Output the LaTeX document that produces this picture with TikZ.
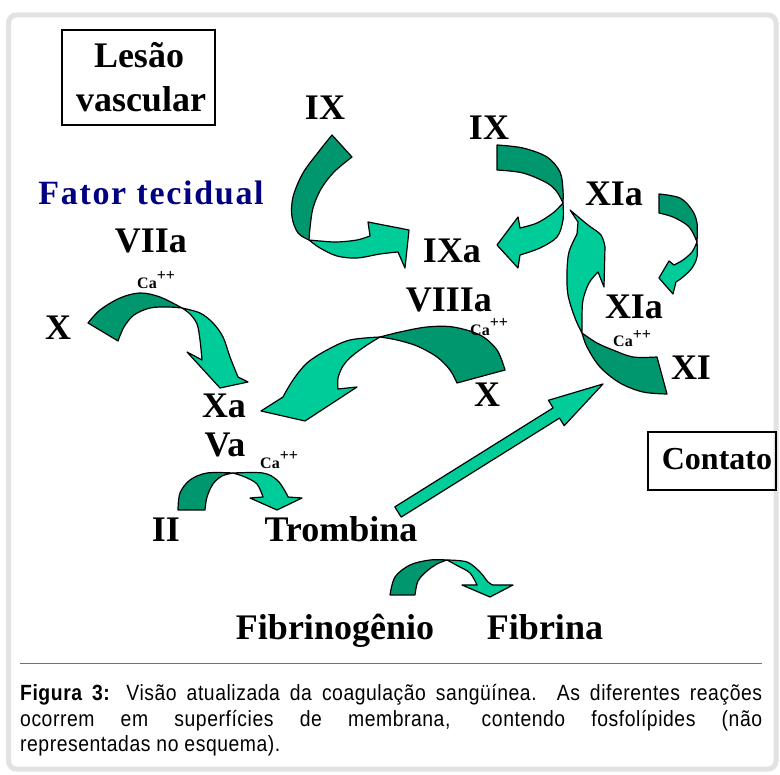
\documentclass[tikz,border=0pt]{standalone}
\usepackage{fontspec}
\setmainfont{Liberation Serif}
\newfontfamily\capfont[LetterSpace=2.5,FakeStretch=0.88]{Liberation Sans}
\newfontfamily\fatorfont[LetterSpace=5]{Liberation Serif}
\definecolor{dkg}{RGB}{0,150,110}
\definecolor{ltg}{RGB}{0,204,153}
\definecolor{navyblue}{RGB}{0,0,128}
\definecolor{framegray}{RGB}{226,226,226}
\begin{document}
\begin{tikzpicture}[x=1pt,y=-1pt,
  dk/.style={fill=dkg,draw=black,line width=1.2pt,line join=round},
  lt/.style={fill=ltg,draw=black,line width=1.2pt,line join=round},
  sm/.style={smooth,tension=0.55},
  lbl/.style={anchor=base,inner sep=0pt,font=\fontsize{36}{40}\selectfont\bfseries},
  ca/.style={anchor=base west,inner sep=0pt,font=\fontsize{16}{18}\selectfont\bfseries},
  box/.style={draw=black,line width=1.5pt,inner sep=0pt},
  captxt/.style={anchor=base west,inner sep=0pt,font=\capfont\fontsize{22}{26}\selectfont}]
\useasboundingbox (0,0) rectangle (780,775);
\draw[framegray,line width=5pt,rounded corners=8pt] (8.5,15) rectangle (776,769);

% boxes
\node[box,minimum width=153pt,minimum height=95pt] (lesaobox) at (138.5,77.5) {};
\node[box,minimum width=128pt,minimum height=58pt] (contatobox) at (712,461) {};

% A0 left IX -> IXa
\filldraw[dk] plot[sm] coordinates {(332,135) (320,150) (303,173) (293,197) (292,217) (298,233) (309,240)}
  -- plot[sm] coordinates {(309,240) (310,228) (313,208) (321,189) (334,172) (352,157)} -- cycle;
\filldraw[lt] plot[sm] coordinates {(309,240) (320,248) (337,256) (357,258) (380,254) (398,252)}
  -- (405,268) -- (409,230) -- (368,222) -- (370,236)
  -- plot[sm] coordinates {(370,236) (357,240) (337,242) (320,241) (309,240)} -- cycle;

% A1 X -> Xa
\filldraw[dk] plot[sm] coordinates {(88,323) (100,310) (120,298) (140,293) (160,297) (182,308)}
  -- plot[sm] coordinates {(182,308) (168,307) (150,308) (134,315) (124,327) (118,341)} -- cycle;
\filldraw[lt] plot[sm] coordinates {(182,308) (200,313) (213,323) (223,337) (230,357) (238,377)}
  -- (248,382) -- (220,388) -- (187,352) -- (202,360)
  -- plot[sm] coordinates {(202,360) (200,340) (197,324) (190,314) (182,308)} -- cycle;

% A2 X -> Xa (VIIIa)
\filldraw[dk] plot[sm] coordinates {(505,370) (497,350) (480,335) (453,327) (427,327) (400,332) (380,337)}
  -- plot[sm] coordinates {(380,337) (397,340) (417,346) (437,357) (450,370) (457,383)} -- cycle;
\filldraw[lt] plot[sm] coordinates {(380,337) (350,340) (327,350) (307,363) (293,380) (283,397)}
  -- (261,411) -- (305,421) -- (357,387) -- (338,389)
  -- plot[sm] coordinates {(338,389) (338,378) (343,366) (352,356) (367,345) (380,337)} -- cycle;

% A3 right IX -> IXa
\filldraw[dk] plot[sm] coordinates {(497,145) (523,148) (547,157) (560,172) (563,190) (563,203)}
  -- plot[sm] coordinates {(563,203) (557,192) (547,183) (523,173) (497,170)} -- cycle;
\filldraw[lt] plot[sm] coordinates {(563,203) (553,213) (537,223) (520,228)}
  -- (518,217) -- (497,245) -- (518,268) -- (520,255)
  -- plot[sm] coordinates {(520,255) (540,248) (557,237) (563,220) (563,203)} -- cycle;

% A4 XIa self loop
\filldraw[dk] plot[sm] coordinates {(659,194) (680,198) (692,210) (697,223) (697,242)}
  -- plot[sm] coordinates {(697,242) (693,233) (687,225) (673,217) (659,213)} -- cycle;
\filldraw[lt] plot[sm] coordinates {(697,242) (697,257) (692,268) (683,277) (676,282)}
  -- (673,294) -- (659,278) -- (669,261) -- (674,265)
  -- plot[sm] coordinates {(674,265) (683,260) (692,252) (697,242)} -- cycle;

% A5 XI -> XIa
\filldraw[dk] plot[sm] coordinates {(657,357) (633,357) (613,350) (597,343) (582,333)}
  -- plot[sm] coordinates {(582,333) (587,347) (600,367) (620,383) (643,392) (667,394)} -- cycle;
\filldraw[lt] plot[sm] coordinates {(582,333) (575,318) (568,295) (567,272) (569,252) (577,234)}
  -- (578,222) -- (570,210)
  -- plot[sm] coordinates {(570,210) (588,225) (601,235) (605,247)} -- (604,287) -- (598,272)
  -- plot[sm] coordinates {(598,272) (589,283) (583,300) (582,318) (582,333)} -- cycle;

% A6 II -> Trombina
\filldraw[dk] plot[sm] coordinates {(178,510) (180,493) (190,480) (207,473) (233,473)}
  -- plot[sm] coordinates {(233,473) (222,476) (213,484) (207,497) (205,510)} -- cycle;
\filldraw[lt] plot[sm] coordinates {(233,473) (263,473) (277,480) (285,491) (288,497)}
  -- (302,498) -- (277,510) -- (250,498) -- (263,497)
  -- plot[sm] coordinates {(263,497) (257,484) (245,477) (233,473)} -- cycle;

% A7 Fibrinogenio -> Fibrina
\filldraw[dk] plot[sm] coordinates {(390,595) (395,577) (410,565) (430,560) (447,560)}
  -- plot[sm] coordinates {(447,560) (437,564) (427,571) (418,581) (415,595)} -- cycle;
\filldraw[lt] plot[sm] coordinates {(447,560) (467,562) (480,572) (488,582) (493,585)}
  -- (513,585) -- (490,597) -- (462,585) -- (477,585)
  -- plot[sm] coordinates {(477,585) (470,573) (458,566) (447,560)} -- cycle;

% A8 Trombina -> XI (straight)
\filldraw[lt] (394.8,506.9) -- (553.1,407.9) -- (548.4,400.3) -- (603,384) -- (564.2,425.7) -- (559.5,418.1) -- (401.2,517.1) -- cycle;

% labels
\node[lbl] (lesao) at (139,68) {Lesão};
\node[lbl] (vascular) at (141,112) {vascular};
\node[lbl] (ixL) at (325,120) {IX};
\node[anchor=base,inner sep=0pt,text=navyblue,font=\fatorfont\bfseries\fontsize{34}{40}\selectfont] (fator) at (151,205) {Fator tecidual};
\node[lbl] (viia) at (151,253) {VIIa};
\node[ca] (ca1) at (137,289) {Ca\raisebox{8pt}{++}};
\node[lbl] (xL) at (58,340) {X};
\node[lbl] (ixR) at (489,140) {IX};
\node[lbl] (xiaU) at (614,206) {XIa};
\node[lbl] (ixa) at (452,263) {IXa};
\node[lbl] (viiia) at (449,312) {VIIIa};
\node[ca] (ca2) at (470,336) {Ca\raisebox{8pt}{++}};
\node[lbl] (xiaL) at (634,319) {XIa};
\node[ca] (ca3) at (613,347) {Ca\raisebox{7pt}{++}};
\node[lbl] (xi) at (691,380) {XI};
\node[lbl] (xR) at (487,407) {X};
\node[lbl] (xa) at (224,418) {Xa};
\node[lbl] (va) at (225,457) {Va};
\node[ca] (ca4) at (260,469) {Ca\raisebox{8pt}{++}};
\node[lbl] (ii) at (166,542) {II};
\node[lbl] (trombina) at (341,542) {Trombina};
\node[lbl] (fibrinogenio) at (335,640) {Fibrinogênio};
\node[lbl] (fibrina) at (545,640) {Fibrina};
\node[anchor=base,inner sep=0pt,font=\fontsize{32}{36}\selectfont\bfseries] (contato) at (717,470) {Contato};

% caption
\draw[black!55,line width=1pt] (20,663) -- (762,663);
\node[captxt] (cap1) at (20,700) {\makebox[742pt][s]{\textbf{Figura 3:} Visão atualizada da coagulação sangüínea. As diferentes reações}};
\node[captxt] (cap2) at (20,726) {\makebox[742pt][s]{ocorrem em superfícies de membrana, contendo fosfolípides (não}};
\node[captxt] (cap3) at (20,751) {representadas no esquema).};
\end{tikzpicture}
\end{document}
